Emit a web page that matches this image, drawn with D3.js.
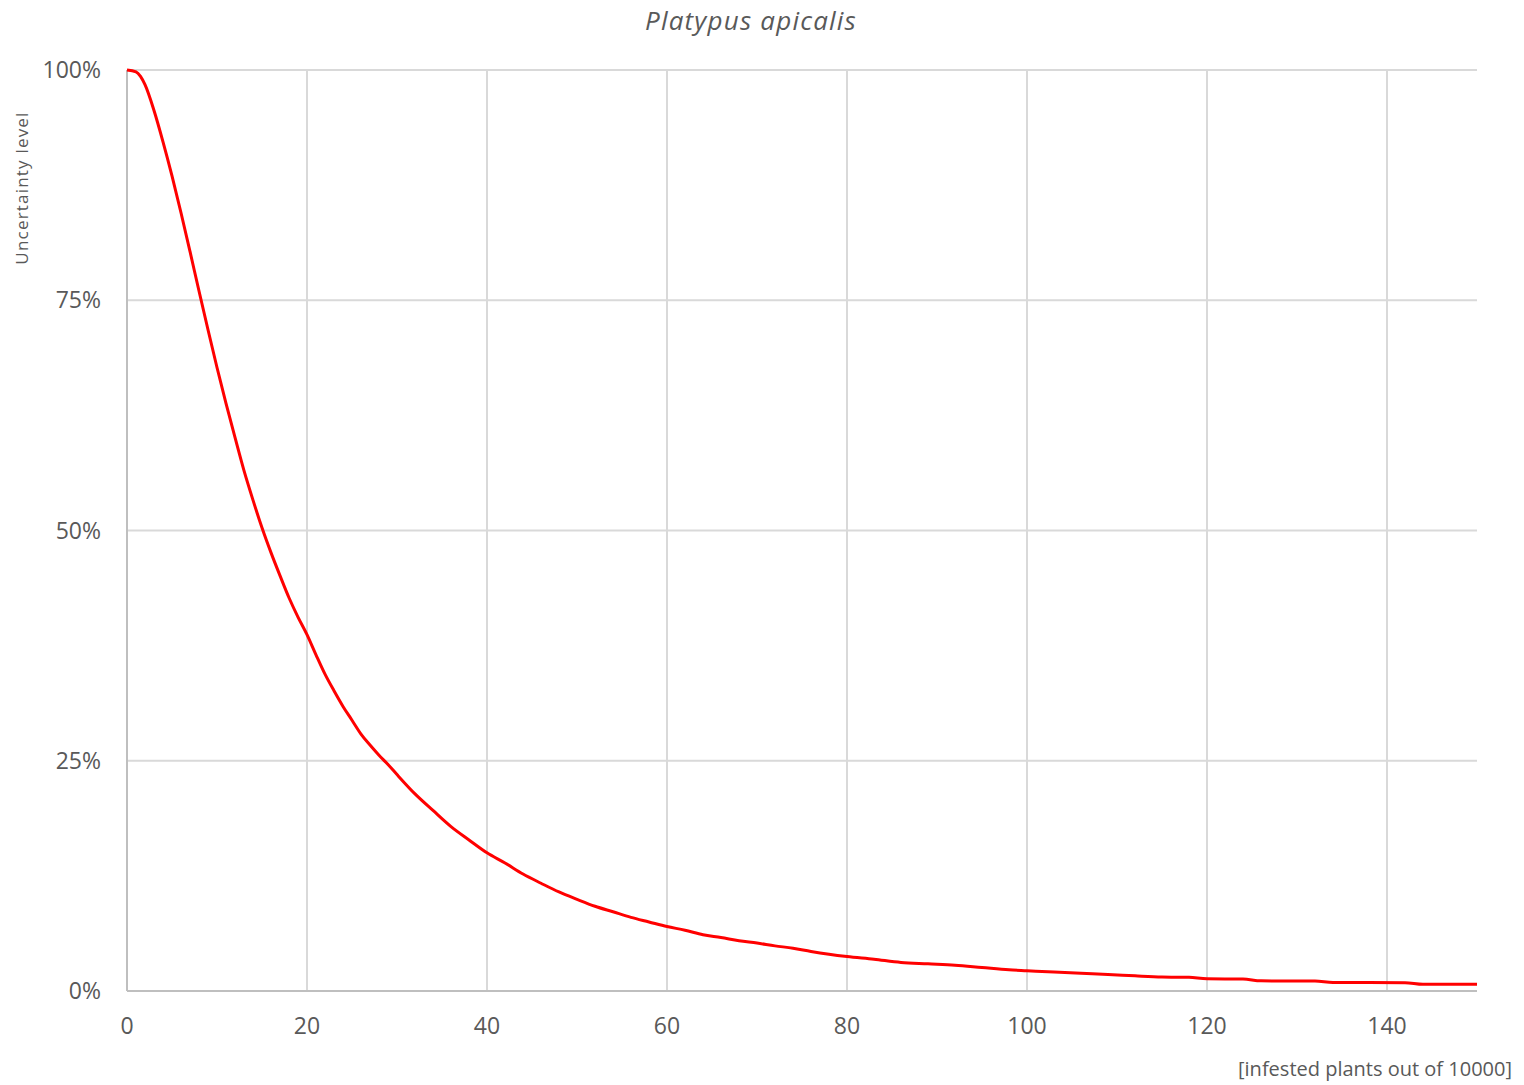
<!DOCTYPE html>
<html>
<head>
<meta charset="utf-8">
<script src="https://cdn.jsdelivr.net/npm/d3@7"></script>
<style>
  html, body { margin: 0; padding: 0; background: #ffffff; }
  svg { display: block; }
  text { font-family: "Open Sans", Carlito, Calibri, Lato, sans-serif; fill: #595959; }
</style>
</head>
<body>
<svg id="chart" width="1524" height="1085"></svg>
<script>
const title = "Platypus apicalis";
const yAxisTitle = "Uncertainty level";
const xAxisTitle = "[infested plants out of 10000]";

const xTicks = [0, 20, 40, 60, 80, 100, 120, 140];
const yTicks = [0, 25, 50, 75, 100];

const infested = [0, 1, 1.5, 2, 3, 4, 5, 6, 7, 8, 9, 10, 11, 12, 13, 14, 15, 16, 17, 18, 19, 20,
  21, 22, 23, 24, 25, 26, 27, 28, 29, 30, 32, 34, 36, 38, 40, 42, 44, 46, 48, 50, 52, 54, 56, 58, 60,
  62, 64, 66, 68, 70, 72, 74, 76, 78, 80, 83, 86, 89, 92, 95, 98, 100, 103, 106, 109, 112, 115, 118,
  120, 124, 126, 132, 134, 142, 144, 150];
const uncertainty = [100, 99.8, 99.3, 98.4, 95.6, 92.2, 88.5, 84.5, 80.3, 76.0, 71.8, 67.7, 63.8, 60.1,
  56.5, 53.3, 50.3, 47.6, 45.1, 42.7, 40.6, 38.7,
  36.5, 34.4, 32.6, 30.9, 29.4, 27.9, 26.7, 25.6, 24.6, 23.5, 21.4, 19.6, 17.85, 16.4, 15.0, 13.9, 12.7,
  11.7, 10.75, 9.95, 9.2, 8.6, 8.0, 7.5, 7.0,
  6.6, 6.1, 5.8, 5.45, 5.2, 4.9, 4.65, 4.3, 4.0, 3.75, 3.45, 3.1, 2.95, 2.8, 2.55, 2.3, 2.2, 2.05, 1.92,
  1.8, 1.65, 1.52, 1.48,
  1.32, 1.30, 1.1, 1.09, 0.92, 0.9, 0.72, 0.72];

(function () {
const data = infested.map((x, i) => ({ x, y: uncertainty[i] }));

const svg = d3.select("#chart");
const pLeft = 127, pRight = 1477, pTop = 70, pBottom = 991;

const x = d3.scaleLinear().domain([0, 150]).range([pLeft, pRight]);
const y = d3.scaleLinear().domain([0, 100]).range([pBottom, pTop]);

// gridlines
svg.append("g").selectAll("line").data(yTicks.filter(d => d > 0)).join("line")
  .attr("x1", pLeft).attr("x2", pRight)
  .attr("y1", d => y(d)).attr("y2", d => y(d))
  .attr("stroke", "#d9d9d9").attr("stroke-width", 2);
svg.append("g").selectAll("line").data(xTicks.filter(d => d > 0)).join("line")
  .attr("x1", d => x(d)).attr("x2", d => x(d))
  .attr("y1", pTop).attr("y2", pBottom)
  .attr("stroke", "#d9d9d9").attr("stroke-width", 2);

// axes lines
svg.append("line").attr("x1", pLeft).attr("x2", pLeft).attr("y1", pTop).attr("y2", pBottom)
  .attr("stroke", "#bfbfbf").attr("stroke-width", 2);
svg.append("line").attr("x1", pLeft).attr("x2", pRight).attr("y1", pBottom).attr("y2", pBottom)
  .attr("stroke", "#bfbfbf").attr("stroke-width", 2);

// tick labels
svg.append("g").selectAll("text").data(yTicks).join("text")
  .attr("x", 101).attr("y", d => y(d)).attr("dy", "0.35em")
  .attr("text-anchor", "end").style("font-size", "23px")
  .text(d => d + "%");
svg.append("g").selectAll("text").data(xTicks).join("text")
  .attr("x", d => x(d)).attr("y", 1026).attr("dy", "0.35em")
  .attr("text-anchor", "middle").style("font-size", "23px")
  .text(d => d);

// line
const line = d3.line().x(d => x(d.x)).y(d => y(d.y)).curve(d3.curveMonotoneX);
svg.append("path").datum(data)
  .attr("d", line)
  .attr("fill", "none").attr("stroke", "#ff0000").attr("stroke-width", 3)
  .attr("stroke-linejoin", "round");

// titles
svg.append("text").attr("x", 751).attr("y", 21).attr("dy", "0.35em")
  .attr("text-anchor", "middle").style("font-size", "26px").style("font-style", "italic")
  .style("letter-spacing", "1.2px")
  .text(title);
svg.append("text").attr("transform", "translate(22,188) rotate(-90)")
  .attr("text-anchor", "middle").attr("dy", "0.35em").style("font-size", "17px")
  .style("letter-spacing", "1.2px")
  .text(yAxisTitle);
svg.append("text").attr("x", 1512).attr("y", 1069).attr("dy", "0.35em")
  .attr("text-anchor", "end").style("font-size", "20px")
  .text(xAxisTitle);
})();
</script>
</body>
</html>
